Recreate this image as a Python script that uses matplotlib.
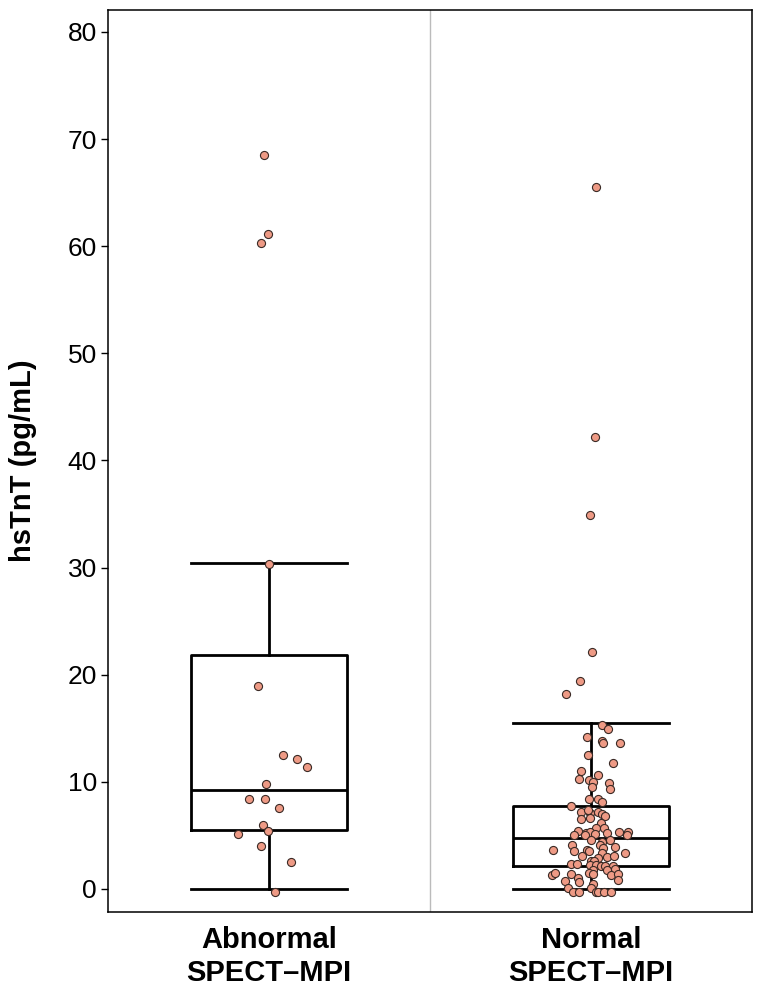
import numpy as np
import matplotlib
matplotlib.use('Agg')
import matplotlib.pyplot as plt

plt.rcParams['font.family'] = ['Liberation Sans', 'DejaVu Sans']

groups = ['Abnormal\nSPECT\u2013MPI', 'Normal\nSPECT\u2013MPI']

# box summary (whisker low, q1, median, q3, whisker high)
box_stats = [
    [0.0, 5.5, 9.25, 21.85, 30.45],
    [0.0, 2.15, 4.8, 7.7, 15.5],
]

# jittered points: values and horizontal offsets (category units)
abn_vals = [68.5, 61.1, 60.3, 30.3, 18.9, 12.5, 12.1, 11.4, 9.8, 8.4, 8.4, 7.6,
            6.0, 5.4, 5.1, 4.0, 2.5, -0.25]
abn_off = [-0.015, -0.003, -0.025, 0.001, -0.033, 0.045, 0.088, 0.117, -0.008, -0.061,
           -0.012, 0.032, -0.019, -0.004, -0.097, -0.025, 0.069, 0.02]

nor_vals = [65.5, 42.2, 34.9, 22.1, 19.4, 18.2,
            15.3, 14.9, 14.2, 13.8, 13.6, 13.6, 12.5, 11.8, 11.0, 10.6, 10.3, 10.2,
            10.0, 9.9, 9.5, 9.3, 8.4, 8.4, 8.1, 7.7, 7.2, 7.1, 7.2, 7.4, 7.0, 6.8,
            6.6, 6.5, 6.2, 5.7, 5.7, 5.4, 5.2, 5.3, 5.1, 5.2, 5.3, 5.3, 5.0, 5.0,
            5.0, 4.6, 4.6, 4.4, 4.1, 4.1, 3.9, 3.8, 3.6, 3.5, 3.6, 3.5, 3.4, 3.4,
            3.1, 3.0, 3.1, 2.9, 2.6, 2.6, 2.3, 2.3, 2.2, 2.2, 2.1, 2.1, 2.1, 1.9,
            1.8, 1.8, 1.5, 1.3, 1.5, 1.4, 1.4, 1.3, 1.4, 1.0, 0.7, 0.6, 0.8, 0.5,
            0.1, 0.1, -0.3, -0.3, -0.3, -0.3, -0.3, -0.3]
nor_off = [0.016, 0.012, -0.003, 0.003, -0.033, -0.077,
           0.035, 0.054, -0.012, 0.034, 0.037, 0.091, -0.009, 0.067, -0.03, 0.023, -0.037, -0.005,
           0.007, 0.055, 0.003, 0.058, -0.006, 0.021, 0.034, -0.061, -0.031, -0.003, 0.023, -0.01, 0.034, 0.042,
           -0.003, -0.03, 0.032, 0.016, 0.041, -0.039, -0.016, -0.003, 0.012, 0.051, 0.087, 0.114, 0.111, -0.053,
           -0.018, 0.0, 0.059, 0.034, 0.027, -0.058, 0.075, 0.036, -0.118, -0.053, -0.012, -0.006, 0.033, 0.106,
           -0.028, 0.051, 0.072, 0.022, 0.0, 0.01, -0.062, -0.043, -0.004, 0.016, 0.031, 0.043, 0.067, 0.074,
           0.051, 0.006, -0.007, -0.12, -0.113, -0.061, 0.006, 0.062, 0.083, -0.039, -0.081, -0.037, 0.083, 0.007,
           -0.07, -0.001, -0.055, -0.038, 0.015, 0.023, 0.039, 0.061]

fig = plt.figure(figsize=(7.62, 9.97), dpi=100)
ax = fig.add_axes([0.1417, 0.0853, 0.8452, 0.9047])

stats = []
for s, name in zip(box_stats, groups):
    stats.append({'whislo': s[0], 'q1': s[1], 'med': s[2], 'q3': s[3], 'whishi': s[4],
                  'fliers': [], 'label': name})

lw = 2.0
ax.bxp(stats, positions=[1, 2], widths=0.485, capwidths=0.485, showfliers=False,
       boxprops=dict(color='black', linewidth=lw),
       whiskerprops=dict(color='black', linewidth=lw),
       capprops=dict(color='black', linewidth=lw),
       medianprops=dict(color='black', linewidth=lw))

ax.scatter(1 + np.array(abn_off), abn_vals, s=34, color='#EE9A85', edgecolor='#3a2a25',
           linewidth=0.8, zorder=5)
ax.scatter(2 + np.array(nor_off), nor_vals, s=34, color='#EE9A85', edgecolor='#3a2a25',
           linewidth=0.8, zorder=5)

ax.axvline(1.5, color='#bbbbbb', linewidth=1.0, zorder=0)

ax.set_xlim(0.5, 2.5)
ax.set_ylim(-2.15, 82.05)
ax.set_yticks(np.arange(0, 81, 10))
ax.tick_params(axis='y', labelsize=19, length=5, width=1.0, direction='out', pad=3)
ax.tick_params(axis='x', length=0, pad=10)
ax.set_xticks([1, 2])
ax.set_xticklabels(groups, fontsize=21, fontweight='bold', linespacing=1.22)
ax.set_ylabel('hsTnT (pg/mL)', fontsize=21, fontweight='bold', labelpad=22)

for sp in ax.spines.values():
    sp.set_linewidth(1.1)
    sp.set_color('black')

fig.savefig('out.png', dpi=100)
